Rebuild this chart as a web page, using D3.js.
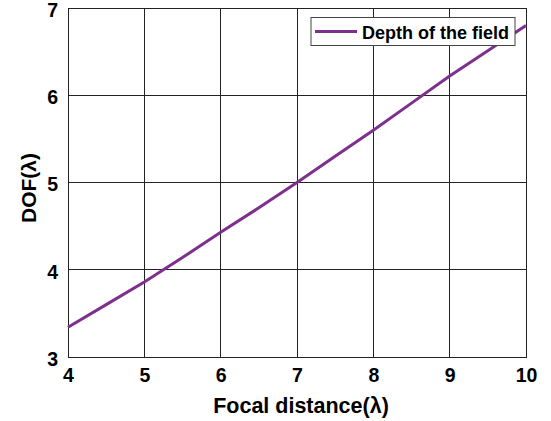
<!DOCTYPE html>
<html><head><meta charset="utf-8">
<script src="https://cdn.jsdelivr.net/npm/d3@7"></script>
<style>body{margin:0;background:#fff}svg{display:block}text{font-family:Arial,"Liberation Sans",sans-serif;font-weight:bold;fill:#000}</style>
</head><body>
<svg id="c" width="551" height="421"></svg>
<script>
const focal = [4, 4.5, 5, 5.5, 6, 6.5, 7, 7.5, 8, 8.5, 9, 9.5, 10];
const dof = [3.34, 3.6, 3.86, 4.14, 4.43, 4.71, 5.0, 5.3, 5.6, 5.91, 6.22, 6.51, 6.8];
const xTicks = [4, 5, 6, 7, 8, 9, 10];
const yTicks = [3, 4, 5, 6, 7];
const seriesName = "Depth of the field";

const svg = d3.select("#c");
const L = 68, R = 526, T = 8, B = 357;
const x = d3.scaleLinear().domain([4, 10]).range([L, R]);
const y = d3.scaleLinear().domain([3, 7]).range([B, T]);

// grid
svg.append("g").selectAll("line").data(xTicks).join("line")
  .attr("x1", d => x(d)).attr("x2", d => x(d)).attr("y1", T).attr("y2", B)
  .attr("stroke", "#222").attr("stroke-width", 1).attr("shape-rendering","crispEdges");
svg.append("g").selectAll("line").data(yTicks).join("line")
  .attr("y1", d => y(d)).attr("y2", d => y(d)).attr("x1", L).attr("x2", R)
  .attr("stroke", "#222").attr("stroke-width", 1).attr("shape-rendering","crispEdges");
svg.append("rect").attr("x", L).attr("y", T).attr("width", R - L).attr("height", B - T)
  .attr("fill", "none").attr("stroke", "#222").attr("stroke-width", 1).attr("shape-rendering","crispEdges");

// axes with labels
const xAxis = d3.axisBottom(x).tickValues(xTicks).tickSize(0).tickPadding(10).tickFormat(d3.format("d"));
const gx = svg.append("g").attr("transform", `translate(0,${B})`).call(xAxis);
gx.select(".domain").remove();
gx.attr("font-size", null).attr("font-family", null);
gx.selectAll("text").attr("dy", null).attr("y", 25)
  .style("font-size", "19.5px").style("font-weight", "bold").style("fill", "#000");
const yAxis = d3.axisLeft(y).tickValues(yTicks).tickSize(0).tickPadding(10).tickFormat(d3.format("d"));
const gy = svg.append("g").attr("transform", `translate(${L},0)`).call(yAxis);
gy.select(".domain").remove();
gy.attr("font-size", null).attr("font-family", null);
gy.selectAll("text").attr("x", -10).attr("dy", "0.43em")
  .style("font-size", "19.5px").style("font-weight", "bold").style("fill", "#000");

// line
const line = d3.line().x((d, i) => x(focal[i])).y(d => y(d));
svg.append("path").datum(dof).attr("d", line).attr("fill", "none")
  .attr("stroke", "#7E2F8E").attr("stroke-width", 3);

// axis titles
svg.append("text").attr("x", 301).attr("y", 413).attr("text-anchor", "middle")
  .style("font-size", "21.5px").text("Focal distance(λ)");
svg.append("text").attr("transform", `translate(36,188) rotate(-90)`)
  .attr("text-anchor", "middle").style("font-size", "21px").text("DOF(λ)");

// legend
const lg = svg.append("g");
lg.append("rect").attr("x", 311).attr("y", 17.5).attr("width", 204).attr("height", 28)
  .attr("fill", "#fff").attr("stroke", "#444").attr("stroke-width", 1);
lg.append("line").attr("x1", 315).attr("x2", 357).attr("y1", 31.5).attr("y2", 31.5)
  .attr("stroke", "#7E2F8E").attr("stroke-width", 3);
lg.append("text").attr("x", 362).attr("y", 39).style("font-size", "18px").text(seriesName);
</script>
</body></html>
